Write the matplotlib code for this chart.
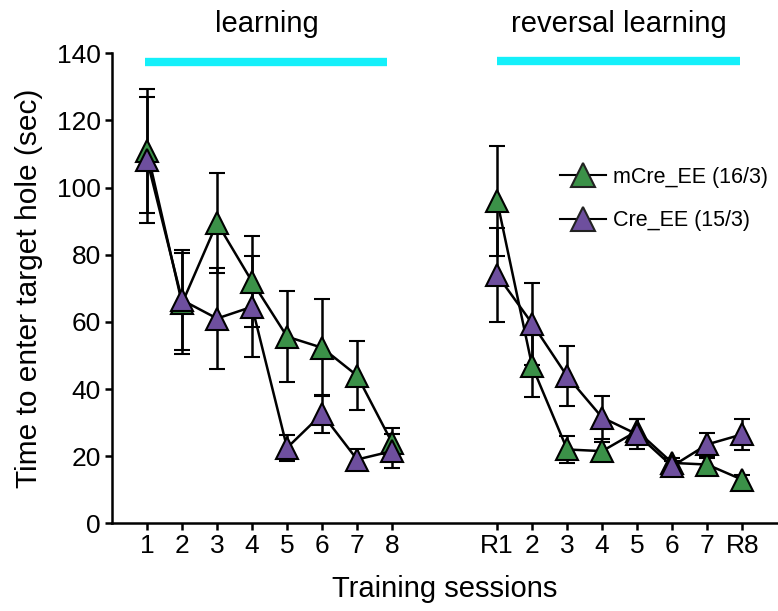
import matplotlib.pyplot as plt
from matplotlib.lines import Line2D

plt.rcParams['font.family'] = ['Liberation Sans', 'DejaVu Sans']

# Session positions (learning 1-8, reversal R1-R8 after a gap)
learn_x = [1, 2, 3, 4, 5, 6, 7, 8]
rev_x = [11, 12, 13, 14, 15, 16, 17, 18]
tick_labels = ['1', '2', '3', '4', '5', '6', '7', '8',
               'R1', '2', '3', '4', '5', '6', '7', 'R8']

# mCre_EE (16/3)
mcre_learn = [111, 65.5, 89.5, 72, 55.6, 52.3, 44, 24]
mcre_learn_err = [18.5, 15, 14.8, 13.5, 13.6, 14.5, 10.2, 4.5]
mcre_rev = [96, 46.8, 22, 21.5, 27.5, 18, 17.5, 13]
mcre_rev_err = [16.5, 9.3, 4, 2.7, 3.5, 1.5, 2, 1.5]

# Cre_EE (15/3)
cre_learn = [108.3, 66.5, 61, 64.5, 22.5, 32.6, 19, 21.5]
cre_learn_err = [18.8, 15, 15, 15, 3.8, 5.6, 3, 5]
cre_rev = [74, 59.5, 43.8, 31.5, 26.5, 17, 23.5, 26.5]
cre_rev_err = [14, 12.2, 9, 6.5, 4.5, 1.5, 3.3, 4.7]

GREEN = '#3b9148'
PURPLE = '#6e4f9e'
CYAN = '#14f0fa'

fig = plt.figure(figsize=(7.78, 6.11), dpi=100)
ax = fig.add_axes([0.144, 0.1435, 0.855, 0.7693])

style = dict(marker='^', markersize=16.5, markeredgecolor='black', markeredgewidth=1.5,
             color='black', linewidth=1.8, ecolor='black', elinewidth=1.8,
             capsize=5.5, capthick=1.8)

for xs, ys, es, c in [(learn_x, mcre_learn, mcre_learn_err, GREEN),
                      (rev_x, mcre_rev, mcre_rev_err, GREEN),
                      (learn_x, cre_learn, cre_learn_err, PURPLE),
                      (rev_x, cre_rev, cre_rev_err, PURPLE)]:
    ax.errorbar(xs, ys, yerr=es, markerfacecolor=c, **style)

# phase bars
ax.plot([0.95, 7.85], [137.5, 137.5], color=CYAN, linewidth=6, solid_capstyle='butt', clip_on=False)
ax.plot([11.0, 17.95], [137.7, 137.7], color=CYAN, linewidth=6, solid_capstyle='butt', clip_on=False)
ax.text(4.43, 148.8, 'learning', ha='center', va='center', fontsize=21)
ax.text(14.47, 148.8, 'reversal learning', ha='center', va='center', fontsize=21)

ax.set_xlim(0, 19)
ax.set_ylim(0, 140)
ax.set_xticks(learn_x + rev_x)
ax.set_xticklabels(tick_labels)
ax.set_yticks(range(0, 141, 20))
ax.tick_params(labelsize=19, width=1.8, length=5, direction='out', pad=3)
ax.spines['top'].set_visible(False)
ax.spines['right'].set_visible(False)
ax.spines['left'].set_linewidth(1.8)
ax.spines['bottom'].set_linewidth(1.8)
ax.set_xlabel('Training sessions', fontsize=21, labelpad=12)
ax.set_ylabel('Time to enter target hole (sec)', fontsize=21.5, labelpad=10)

handles = [Line2D([], [], color='black', linewidth=1.5, marker='^', markersize=17,
                  markerfacecolor=GREEN, markeredgecolor='#222222', markeredgewidth=1.5),
           Line2D([], [], color='black', linewidth=1.5, marker='^', markersize=17,
                  markerfacecolor=PURPLE, markeredgecolor='#222222', markeredgewidth=1.5)]
ax.legend(handles, ['mCre_EE (16/3)', 'Cre_EE (15/3)'], loc='upper left',
          bbox_to_anchor=(0.645, 0.80), frameon=False, fontsize=15.5,
          handlelength=2.1, handletextpad=0.35, labelspacing=1.05)

fig.savefig('out.png', dpi=100)
